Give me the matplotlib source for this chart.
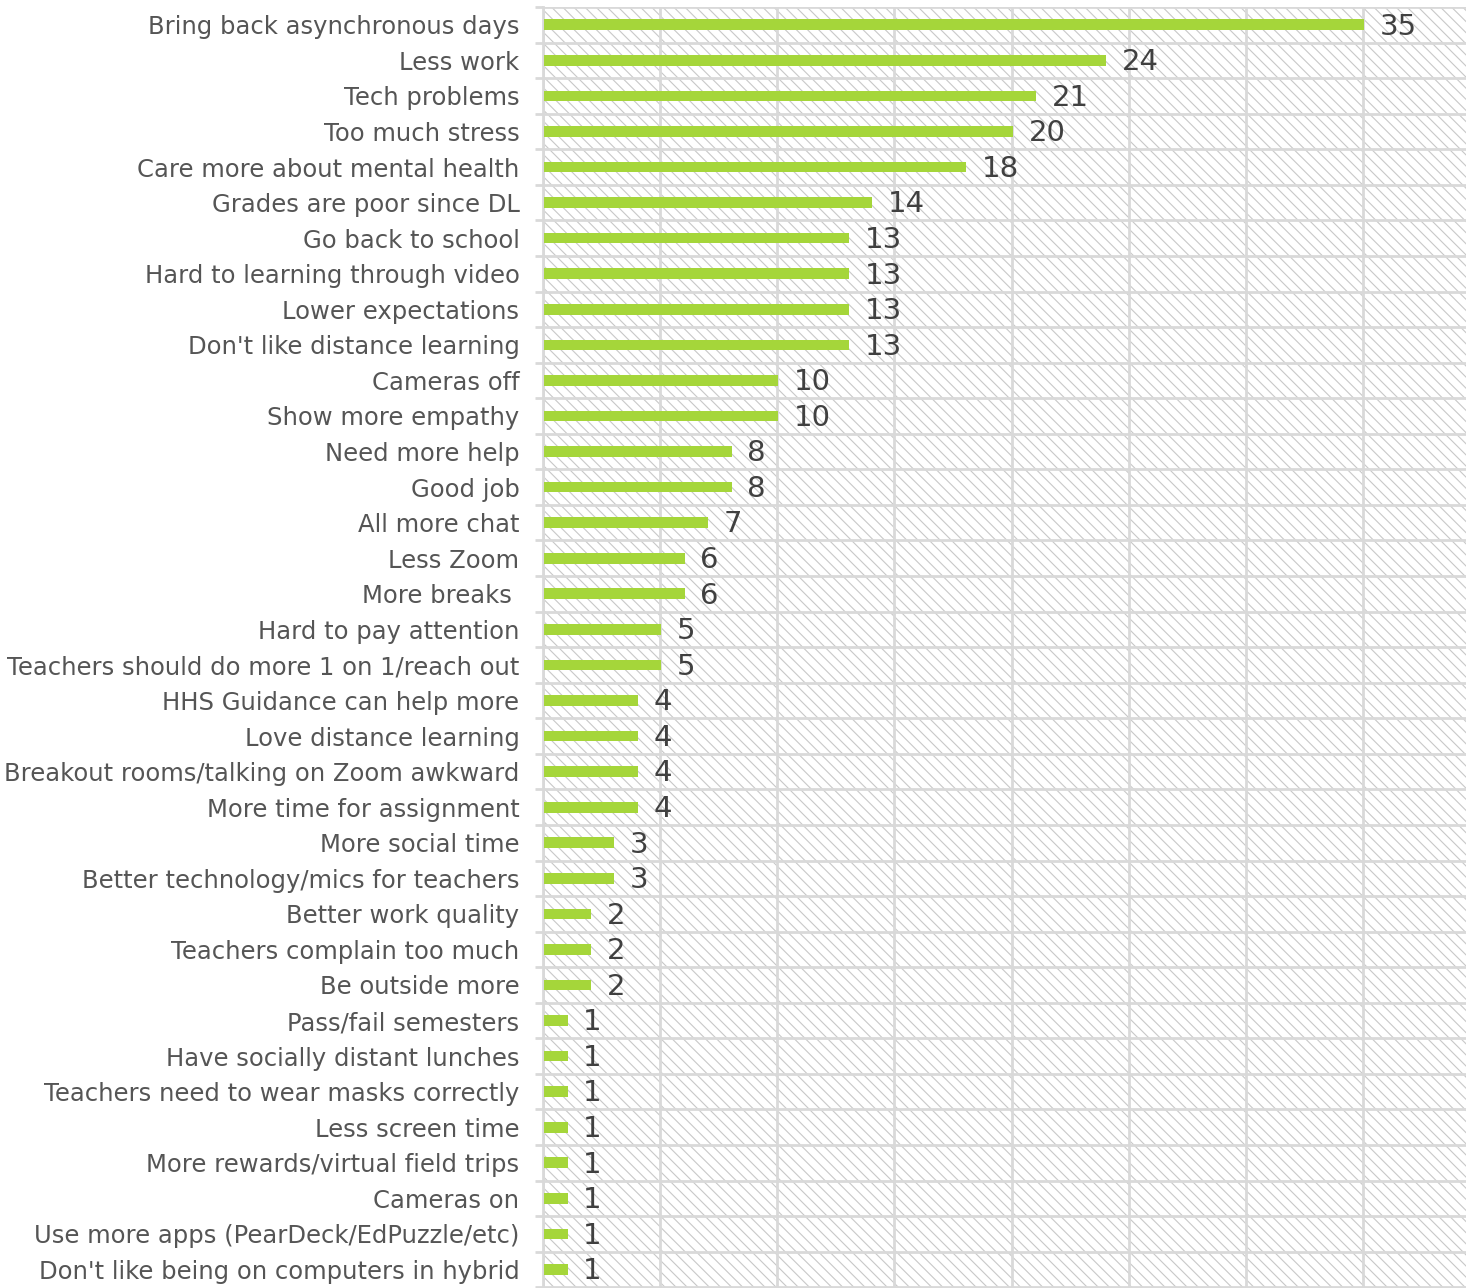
import matplotlib
matplotlib.use("Agg")
import matplotlib.pyplot as plt
from matplotlib.patches import Rectangle
import numpy as np

# ==============================
# Data (top to bottom)
# ==============================

labels = [
    "Bring back asynchronous days",
    "Less work",
    "Tech problems",
    "Too much stress",
    "Care more about mental health",
    "Grades are poor since DL",
    "Go back to school",
    "Hard to learning through video",
    "Lower expectations",
    "Don't like distance learning",
    "Cameras off",
    "Show more empathy",
    "Need more help",
    "Good job",
    "All more chat",
    "Less Zoom",
    "More breaks ",
    "Hard to pay attention",
    "Teachers should do more 1 on 1/reach out",
    "HHS Guidance can help more",
    "Love distance learning",
    "Breakout rooms/talking on Zoom awkward",
    "More time for assignment",
    "More social time",
    "Better technology/mics for teachers",
    "Better work quality",
    "Teachers complain too much",
    "Be outside more",
    "Pass/fail semesters",
    "Have socially distant lunches",
    "Teachers need to wear masks correctly",
    "Less screen time",
    "More rewards/virtual field trips",
    "Cameras on",
    "Use more apps (PearDeck/EdPuzzle/etc)",
    "Don't like being on computers in hybrid",
]

counts = [35, 24, 21, 20, 18, 14, 13, 13, 13, 13, 10, 10, 8, 8, 7, 6, 6,
          5, 5, 4, 4, 4, 4, 3, 3, 2, 2, 2, 1, 1, 1, 1, 1, 1, 1, 1]

# ==============================
# Styling
# ==============================

BAR_COLOR = "#a5d63a"
GRID_COLOR = "#d9d9d9"
LABEL_COLOR = "#555555"
VALUE_COLOR = "#404040"

plt.rcParams["font.family"] = ["DejaVu Sans"]
plt.rcParams["hatch.linewidth"] = 0.8
plt.rcParams["hatch.color"] = "#c8c8c8"

fig = plt.figure(figsize=(14.66, 12.88), dpi=100)
ax = fig.add_axes([543 / 1466, 0.0, 1 - 543 / 1466, 1 - 7 / 1288])

y = np.arange(len(labels))

# hatched background
ax.add_patch(Rectangle((0, 0), 1, 1, transform=ax.transAxes,
                       facecolor="white", edgecolor="#c8c8c8",
                       hatch="\\\\\\", linewidth=0, zorder=0))

ax.barh(y, counts, height=0.3, color=BAR_COLOR, zorder=3, left=0.05)

for yi, v in zip(y, counts):
    ax.text(v + 0.72, yi + 0.05, str(v), va="center", ha="left",
            fontsize=21, color=VALUE_COLOR, zorder=4)

ax.set_xlim(0, 39.4)
ax.set_ylim(len(labels) - 0.5 + 0.02, -0.5)

# vertical grid
ax.set_xticks(np.arange(0, 40, 5))
ax.xaxis.grid(True, color=GRID_COLOR, linewidth=2, zorder=1)
ax.tick_params(axis="x", bottom=False, labelbottom=False)

# category labels + boundary lines
ax.set_yticks(y)
ax.set_yticklabels(labels, fontsize=17.5, color=LABEL_COLOR)
ax.tick_params(axis="y", which="major", length=0, pad=17)
ax.set_yticks(np.arange(-0.5, len(labels), 1), minor=True)
ax.tick_params(axis="y", which="minor", length=6, width=2, color=GRID_COLOR)
ax.yaxis.grid(True, which="minor", color=GRID_COLOR, linewidth=2, zorder=1)
ax.set_axisbelow(True)

for side in ["top", "right", "bottom"]:
    ax.spines[side].set_visible(False)
ax.spines["left"].set_color(GRID_COLOR)
ax.spines["left"].set_linewidth(2)

fig.savefig("out.png", dpi=100)
